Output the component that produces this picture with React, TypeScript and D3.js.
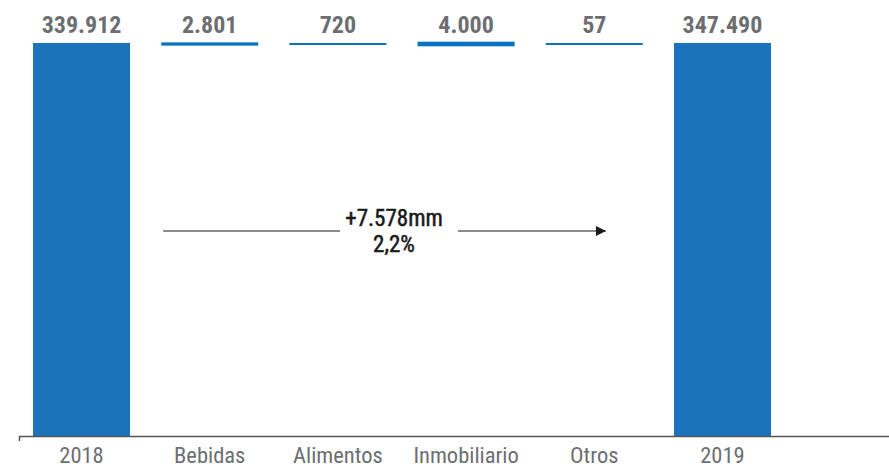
import React from "react";
import * as d3 from "d3";

const categories = ["2018", "Bebidas", "Alimentos", "Inmobiliario", "Otros", "2019"];
const kinds = ["total", "delta", "delta", "delta", "delta", "total"];
const values = [339912, 2801, 720, 4000, 57, 347490];
const valueLabels = ["339.912", "2.801", "720", "4.000", "57", "347.490"];
const changeLabel = "+7.578mm";
const changePct = "2,2%";

const W = 889;
const H = 468;
const FONT = "'Liberation Sans Narrow', 'Roboto Condensed', 'Arial Narrow', Roboto, sans-serif";

export default function App() {
  const x = d3.scaleBand<string>().domain(categories).range([33, 771]).paddingInner(0.243).paddingOuter(0);
  const y = d3.scaleLinear().domain([0, values[0]]).range([436, 43]).clamp(true);
  const bw = x.bandwidth();
  const base = y(values[0]);

  const arrowStart = (x("Bebidas") as number) + 2;
  const arrowEnd = (x("Otros") as number) + bw * 0.62;
  const textX = 394;
  const arrowY = 231;

  return (
    <svg width={W} height={H} style={{ position: "absolute", left: 0, top: 0, background: "#fff" }} fontFamily={FONT}>
      <defs>
        <marker id="ah" viewBox="0 0 10 10" refX="10" refY="5" markerWidth="12" markerHeight="10" markerUnits="userSpaceOnUse" orient="auto">
          <path d="M0,0 L10,5 L0,10 z" fill="#1a1a1a" />
        </marker>
      </defs>
      {categories.map((c, i) => {
        const x0 = x(c) as number;
        if (kinds[i] === "total") {
          const top = y(values[i]);
          return <rect key={c} x={x0} y={top} width={bw} height={y(0) - top} fill="#1b74bb" />;
        }
        const th = Math.max(2, y(0) - y(values[i]));
        const cy = base + 1;
        return <rect key={c} x={x0} y={cy - th / 2} width={bw} height={th} fill="#0b72c1" />;
      })}
      {categories.map((c, i) => {
        const top = kinds[i] === "total" ? y(values[i]) : base;
        return (
          <text key={"v" + c} x={(x(c) as number) + bw / 2} y={top - 10} textAnchor="middle" fontSize={24} fontWeight="bold" fill="#6d6e71">
            {valueLabels[i]}
          </text>
        );
      })}
      {/* axis */}
      <line x1={19} x2={W} y1={436.5} y2={436.5} stroke="#555" strokeWidth={1.5} />
      <line x1={19.5} x2={19.5} y1={436} y2={441} stroke="#555" strokeWidth={1.5} />
      {categories.map((c) => (
        <text key={"t" + c} x={(x(c) as number) + bw / 2} y={463} textAnchor="middle" fontSize={22.5} fill="#6d6e71">
          {c}
        </text>
      ))}
      {/* change arrow */}
      <line x1={arrowStart} x2={textX - 54} y1={arrowY} y2={arrowY} stroke="#1a1a1a" strokeWidth={1} />
      <line x1={textX + 64} x2={arrowEnd} y1={arrowY} y2={arrowY} stroke="#1a1a1a" strokeWidth={1} markerEnd="url(#ah)" />
      <text x={textX} y={226} textAnchor="middle" fontSize={23} fill="#1a1a1a" stroke="#1a1a1a" strokeWidth={0.5}>{changeLabel}</text>
      <text x={textX} y={252} textAnchor="middle" fontSize={23} fill="#1a1a1a" stroke="#1a1a1a" strokeWidth={0.5}>{changePct}</text>
    </svg>
  );
}
